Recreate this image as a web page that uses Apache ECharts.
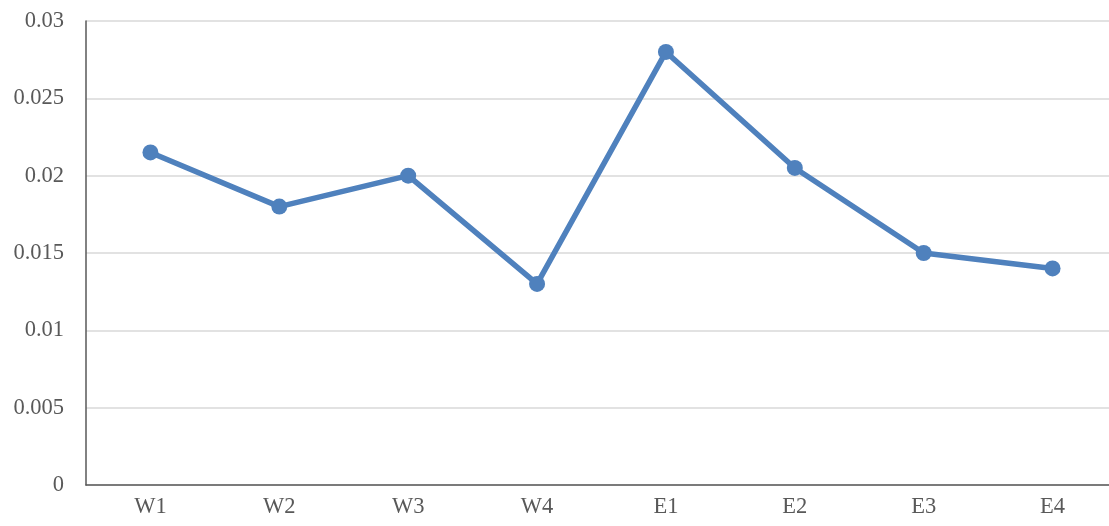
<!DOCTYPE html>
<html><head><meta charset="utf-8">
<script src="https://cdn.jsdelivr.net/npm/echarts@6/dist/echarts.min.js"></script>
<style>html,body{margin:0;padding:0;background:#fff;overflow:hidden;width:1109px;height:526px}#c{width:1117px;height:526px}</style>
</head><body><div id="c"></div>
<script>
const categories = ['W1','W2','W3','W4','E1','E2','E3','E4'];
const values = [0.0215, 0.018, 0.02, 0.013, 0.028, 0.0205, 0.015, 0.014];
const yTicks = [0, 0.005, 0.01, 0.015, 0.02, 0.025, 0.03];

const chart = echarts.init(document.getElementById('c'));
chart.setOption({
  animation: false,
  backgroundColor: '#fff',
  grid: {left: 86, right: 0, top: 21, bottom: 41, containLabel: false},
  xAxis: {
    type: 'category', data: categories, boundaryGap: true,
    axisLine: {lineStyle: {color: '#595959', width: 1.5}},
    axisTick: {show: false},
    axisLabel: {color: '#595959', fontFamily: 'Liberation Serif', fontSize: 22.5, margin: 11}
  },
  yAxis: {
    type: 'value', min: yTicks[0], max: yTicks[yTicks.length-1], interval: 0.005,
    axisLine: {show: true, lineStyle: {color: '#595959', width: 1.5}},
    axisTick: {show: false},
    splitLine: {lineStyle: {color: '#d9d9d9', width: 1.5}},
    axisLabel: {color: '#595959', fontFamily: 'Liberation Serif', fontSize: 22.5, margin: 22,
      formatter: v => String(parseFloat(v.toFixed(3)))}
  },
  series: [{
    type: 'line', data: values,
    symbol: 'circle', symbolSize: 16,
    lineStyle: {color: '#4f81bd', width: 5.5},
    itemStyle: {color: '#4f81bd'}
  }]
});
</script></body></html>
